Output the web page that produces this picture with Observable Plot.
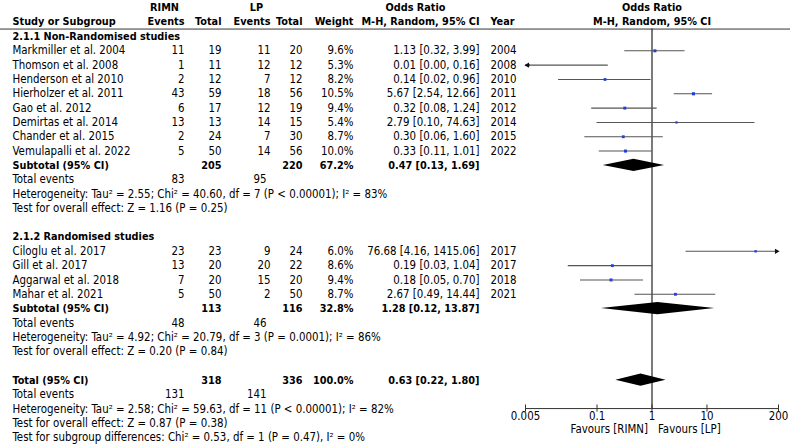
<!DOCTYPE html>
<html><head><meta charset="utf-8">
<script src="https://cdn.jsdelivr.net/npm/d3@7"></script>
<script src="https://cdn.jsdelivr.net/npm/@observablehq/plot@0.6"></script>
<style>body{margin:0;background:#fff}</style>
</head><body><div id="chart"></div>
<script>
// ---- data ----
const studies = ["Markmiller et al. 2004","Thomson et al. 2008","Henderson et al 2010","Hierholzer et al. 2011","Gao et al. 2012","Demirtas et al. 2014","Chander et al. 2015","Vemulapalli et al. 2022",
                 "Ciloglu et al. 2017","Gill et al. 2017","Aggarwal et al. 2018","Mahar et al. 2021"];
const groups = [1,1,1,1,1,1,1,1,2,2,2,2];
const rimnEvents = [11,1,2,43,6,13,2,5, 23,13,7,5];
const rimnTotal  = [19,11,12,59,17,13,24,50, 23,20,20,50];
const lpEvents   = [11,12,7,18,12,14,7,14, 9,20,15,2];
const lpTotal    = [20,12,12,56,19,15,30,56, 24,22,20,50];
const weights    = [9.6,5.3,8.2,10.5,9.4,5.4,8.7,10.0, 6.0,8.6,9.4,8.7];
const oddsRatio  = [1.13,0.0057,0.14,5.67,0.32,2.79,0.30,0.33, 76.68,0.19,0.18,2.67];
const ciLow      = [0.32,0.0003,0.02,2.54,0.08,0.10,0.06,0.11, 4.16,0.03,0.05,0.49];
const ciHigh     = [3.99,0.16,0.96,12.66,1.24,74.63,1.60,1.01, 1415.06,1.04,0.70,14.44];
const years      = ["2004","2008","2010","2011","2012","2014","2015","2022", "2017","2017","2018","2021"];

const groupTitles = ["2.1.1 Non-Randomised studies","2.1.2 Randomised studies"];
const subRimnTotal = [205,113], subLpTotal = [220,116], subWeight = ["67.2%","32.8%"];
const subOR = [0.47,1.28], subLow = [0.13,0.12], subHigh = [1.69,13.87];
const subRimnEvents = [83,48], subLpEvents = [95,46];
const subHet = ["Heterogeneity: Tau² = 2.55; Chi² = 40.60, df = 7 (P < 0.00001); I² = 83%",
                "Heterogeneity: Tau² = 4.92; Chi² = 20.79, df = 3 (P = 0.0001); I² = 86%"];
const subTest = ["Test for overall effect: Z = 1.16 (P = 0.25)","Test for overall effect: Z = 0.20 (P = 0.84)"];

const totRimnTotal = 318, totLpTotal = 336, totWeight = "100.0%";
const totOR = 0.63, totLow = 0.22, totHigh = 1.80;
const totRimnEvents = 131, totLpEvents = 141;
const totHet = "Heterogeneity: Tau² = 2.58; Chi² = 59.63, df = 11 (P < 0.00001); I² = 82%";
const totTest = "Test for overall effect: Z = 0.87 (P = 0.38)";
const subgroupTest = "Test for subgroup differences: Chi² = 0.53, df = 1 (P = 0.47), I² = 0%";
const axisTicks = [0.005, 0.1, 1, 10, 200];
const axisLabels = ["0.005","0.1","1","10","200"];

// ---- layout (row indices) ----
const xMin = 0.005, xMax = 200;
const groupStart = [0, 14];
const rowOf = [];
let gi = [0,0];
groups.forEach((g,i)=>{ gi[g-1]++; rowOf.push(groupStart[g-1] + gi[g-1]); });
const subRow = [9, 19];
const totRow = 24;
const axisRow = 25.98;

const fmt = v => v.toFixed(2);
const ciText = (o,l,h) => `${fmt(o)} [${fmt(l)}, ${fmt(h)}]`;

const S = studies.map((s,i)=>({
  name:s, row:rowOf[i], re:String(rimnEvents[i]), rt:String(rimnTotal[i]), le:String(lpEvents[i]), lt:String(lpTotal[i]),
  w:weights[i], wt: weights[i].toFixed(1)+"%", or:oddsRatio[i], lo:ciLow[i], hi:ciHigh[i],
  lo2: Math.max(ciLow[i], xMin), hi2: Math.min(ciHigh[i], xMax),
  ci: ciText(oddsRatio[i],ciLow[i],ciHigh[i]), year: years[i]
}));
const subs = [0,1].map(g=>({
  title:groupTitles[g], trow: groupStart[g], row: subRow[g],
  rt: String(subRimnTotal[g]), lt: String(subLpTotal[g]), wt: subWeight[g], ci: ciText(subOR[g],subLow[g],subHigh[g]),
  re: String(subRimnEvents[g]), le: String(subLpEvents[g]), het: subHet[g], test: subTest[g]
}));
const tot = {row: totRow, rt: String(totRimnTotal), lt: String(totLpTotal), wt: totWeight, ci: ciText(totOR,totLow,totHigh),
             re: String(totRimnEvents), le: String(totLpEvents)};

const diamonds = [];
[[subOR[0],subLow[0],subHigh[0],subRow[0]],[subOR[1],subLow[1],subHigh[1],subRow[1]],[totOR,totLow,totHigh,totRow]]
 .forEach(([o,l,h,r],k)=>{ const d=0.43;
   diamonds.push({id:k,x:l,y1:r,y2:r},{id:k,x:o,y1:r-d,y2:r+d},{id:k,x:h,y1:r,y2:r}); });

const leftArrows = S.filter(d=>d.lo < xMin);
const rightArrows = S.filter(d=>d.hi > xMax);

// text helpers
const FONT = "DejaVu Sans Condensed";
const TXT = "#000";
const REG = 11.4, BOLD = 10.8;
function col(data, y, text, dx, anchor, bold=false, extra={}) {
  return Plot.text(data, {frameAnchor:"left", y, text, dx, textAnchor:anchor,
    fontWeight: bold ? "bold" : "normal", fontSize: bold ? BOLD : REG, fill:TXT, ...extra});
}
const one = [0];

// column right edges (px)
const C = {name:12, re:184, rt:221, le:270, lt:302, w:353, ci:479, yr:490};

const marks = [
  // header
  col(one, ()=>-2.03, ()=> "RIMN", 164, "middle", true),
  col(one, ()=>-2.03, ()=> "LP", 256, "middle", true),
  col(one, ()=>-2.03, ()=> "Odds Ratio", 415, "middle", true),
  col(one, ()=>-1.05, ()=> "Study or Subgroup", C.name, "start", true),
  col(one, ()=>-1.05, ()=> "Events", C.re, "end", true),
  col(one, ()=>-1.05, ()=> "Total", C.rt, "end", true),
  col(one, ()=>-1.05, ()=> "Events", C.le, "end", true),
  col(one, ()=>-1.05, ()=> "Total", C.lt, "end", true),
  col(one, ()=>-1.05, ()=> "Weight", C.w, "end", true),
  col(one, ()=>-1.05, ()=> "M-H, Random, 95% CI", C.ci, "end", true),
  col(one, ()=>-1.05, ()=> "Year", C.yr, "start", true),
  Plot.text(one, {x:()=>1, y:()=>-2.03, text:()=>"Odds Ratio", fontWeight:"bold", fontSize:BOLD, fill:TXT}),
  Plot.text(one, {x:()=>1, y:()=>-1.05, text:()=>"M-H, Random, 95% CI", fontWeight:"bold", fontSize:BOLD, fill:TXT}),
  Plot.ruleY([-0.52], {stroke:"#333", strokeWidth:1}),

  // group titles
  col(subs, "trow", "title", C.name, "start", true),
  // studies
  col(S, "row", "name", C.name, "start"),
  col(S, "row", "re", C.re, "end"),
  col(S, "row", "rt", C.rt, "end"),
  col(S, "row", "le", C.le, "end"),
  col(S, "row", "lt", C.lt, "end"),
  col(S, "row", "wt", C.w, "end"),
  col(S, "row", "ci", C.ci, "end"),
  col(S, "row", "year", C.yr, "start"),
  // subtotals
  col(subs, "row", ()=>"Subtotal (95% CI)", C.name, "start", true),
  col(subs, "row", "rt", C.rt, "end", true),
  col(subs, "row", "lt", C.lt, "end", true),
  col(subs, "row", "wt", C.w, "end", true),
  col(subs, "row", "ci", C.ci, "end", true),
  col(subs, d=>d.row+1, ()=>"Total events", C.name, "start"),
  col(subs, d=>d.row+1, "re", C.re, "end"),
  col(subs, d=>d.row+1, "le", C.le-4, "end"),
  col(subs, d=>d.row+2, "het", C.name, "start"),
  col(subs, d=>d.row+3, "test", C.name, "start"),
  // overall
  col([tot], "row", ()=>"Total (95% CI)", C.name, "start", true),
  col([tot], "row", "rt", C.rt, "end", true),
  col([tot], "row", "lt", C.lt, "end", true),
  col([tot], "row", "wt", C.w, "end", true),
  col([tot], "row", "ci", C.ci, "end", true),
  col([tot], d=>d.row+1, ()=>"Total events", C.name, "start"),
  col([tot], d=>d.row+1, "re", C.re, "end"),
  col([tot], d=>d.row+1, "le", C.le-4, "end"),
  col([tot], d=>d.row+2, ()=>totHet, C.name, "start"),
  col([tot], d=>d.row+3, ()=>totTest, C.name, "start"),
  col([tot], d=>d.row+4, ()=>subgroupTest, C.name, "start"),

  // forest
  Plot.ruleX([1], {y1:-0.52, y2:axisRow, stroke:"#222", strokeWidth:1.2}),
  Plot.ruleY(S, {y:"row", x1:"lo2", x2:"hi2", stroke:"#555", strokeWidth:1.1}),
  Plot.dot(S, {x:"or", y:"row", r:"w", symbol:"square", fill:"#1f3fd8", stroke:null}),
  Plot.dot(leftArrows, {x:()=>xMin, y:"row", symbol:"triangle", rotate:-90, r:2.0, fill:"#111", stroke:null, dx:2}),
  Plot.dot(rightArrows, {x:()=>xMax, y:"row", symbol:"triangle", rotate:90, r:2.0, fill:"#111", stroke:null, dx:-2}),
  Plot.areaY(diamonds, {x:"x", y1:"y1", y2:"y2", z:"id", fill:"#000", curve:"linear"}),

  // axis
  Plot.ruleY([axisRow], {x1:xMin, x2:xMax, stroke:"#333", strokeWidth:1}),
  Plot.ruleX(axisTicks, {y1:axisRow-0.25, y2:axisRow+0.25, stroke:"#333", strokeWidth:1}),
  Plot.text(axisTicks, {x:d=>d, y:()=>26.55, text:(d,i)=>axisLabels[i], fontSize:REG, fill:TXT}),
  Plot.text(one, {x:()=>1, y:()=>27.46, text:()=>"Favours [RIMN]", textAnchor:"end", dx:-4, fontSize:REG, fill:TXT}),
  Plot.text(one, {x:()=>1, y:()=>27.46, text:()=>"Favours [LP]", textAnchor:"start", dx:6, fontSize:REG, fill:TXT})
];

const chart = Plot.plot({
  width: 790, height: 445, margin: 0,
  style: {fontFamily: `"${FONT}", sans-serif`, background: "#fff", overflow:"visible"},
  x: {type:"log", domain:[xMin, xMax], range:[525, 778], axis:null},
  y: {domain:[0, 28], range:[36, 437], axis:null},
  r: {type:"sqrt", domain:[0, 11], range:[0, 1.8]},
  marks
});
document.getElementById("chart").append(chart);
</script>
</body></html>
